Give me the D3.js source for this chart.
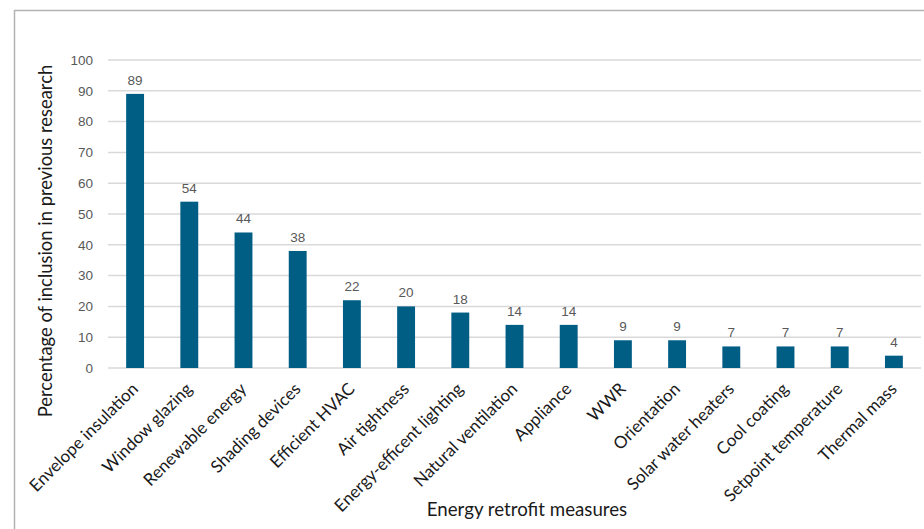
<!DOCTYPE html>
<html>
<head>
<meta charset="utf-8">
<script src="https://cdn.jsdelivr.net/npm/d3@7"></script>
<style>
  html, body { margin: 0; padding: 0; background: #fff; }
  svg { display: block; }
</style>
</head>
<body>
<svg id="chart" width="924" height="529"></svg>
<script>
// Retrofit measures and how often each appears in prior studies (%)
const categories = [
  "Envelope insulation", "Window glazing", "Renewable energy", "Shading devices",
  "Efficient HVAC", "Air tightness", "Energy-efficent lighting", "Natural ventilation",
  "Appliance", "WWR", "Orientation", "Solar water heaters", "Cool coating",
  "Setpoint temperature", "Thermal mass"
];
const values = [89, 54, 44, 38, 22, 20, 18, 14, 14, 9, 9, 7, 7, 7, 4];
const yTicks = [0, 10, 20, 30, 40, 50, 60, 70, 80, 90, 100];

const svg = d3.select("#chart");
const W = 924, H = 529;
const margin = { left: 108, right: 3, top: 60, bottom: 161 };

// outer frame
svg.append("rect")
  .attr("x", 14.5).attr("y", 10.5)
  .attr("width", W).attr("height", H)
  .attr("fill", "none").attr("stroke", "#b3b3b3").attr("stroke-width", 1.5);

const x = d3.scaleBand()
  .domain(categories)
  .range([margin.left, W - margin.right])
  .paddingInner(0.67).paddingOuter(0.335);

const y = d3.scaleLinear().domain([0, 100]).range([H - margin.bottom, margin.top]);

// gridlines
svg.append("g")
  .selectAll("line").data(yTicks).join("line")
  .attr("x1", margin.left).attr("x2", W - margin.right)
  .attr("y1", d => y(d)).attr("y2", d => y(d))
  .attr("stroke", "#d9d9d9").attr("stroke-width", 1.5);

// y axis labels
const yAxis = svg.append("g")
  .attr("transform", `translate(${margin.left},0)`)
  .call(d3.axisLeft(y).tickValues(yTicks).tickSize(0).tickPadding(15));
yAxis.select(".domain").remove();
yAxis.selectAll("text")
  .attr("fill", "#595959")
  .style("font-family", "'Liberation Sans', Arial, sans-serif")
  .style("font-size", "13.5px");

// bars
svg.append("g")
  .selectAll("rect").data(values).join("rect")
  .attr("x", (d, i) => x(categories[i]))
  .attr("width", x.bandwidth())
  .attr("y", d => y(d))
  .attr("height", d => y(0) - y(d))
  .attr("fill", "#005e85");

// value labels
svg.append("g")
  .selectAll("text").data(values).join("text")
  .attr("x", (d, i) => x(categories[i]) + x.bandwidth() / 2)
  .attr("y", d => y(d) - 9)
  .attr("text-anchor", "middle")
  .attr("fill", "#595959")
  .style("font-family", "'Liberation Sans', Arial, sans-serif")
  .style("font-size", "13.5px")
  .text(d => d);

// category labels
const xAxis = svg.append("g")
  .attr("transform", `translate(0,${y(0)})`)
  .call(d3.axisBottom(x).tickSize(0).tickPadding(0));
xAxis.select(".domain").remove();
xAxis.selectAll("text")
  .attr("fill", "#1a1a1a")
  .style("font-family", "Lato, 'Open Sans', sans-serif")
  .style("font-size", "17px")
  .attr("text-anchor", "end")
  .attr("dy", null)
  .attr("transform", "translate(4,22) rotate(-45)");

// axis titles
svg.append("text")
  .attr("x", 527).attr("y", 516)
  .attr("text-anchor", "middle")
  .attr("fill", "#1a1a1a")
  .style("font-family", "Lato, 'Open Sans', sans-serif")
  .style("font-size", "18.7px")
  .text("Energy retrofit measures");

svg.append("text")
  .attr("transform", "translate(52,241) rotate(-90)")
  .attr("text-anchor", "middle")
  .attr("fill", "#1a1a1a")
  .style("font-family", "Lato, 'Open Sans', sans-serif")
  .style("font-size", "18.4px")
  .text("Percentage of inclusion in previous research");
</script>
</body>
</html>
